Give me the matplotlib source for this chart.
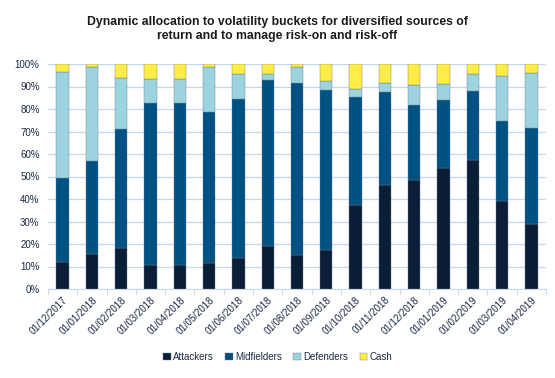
import matplotlib.pyplot as plt
import numpy as np
from matplotlib.ticker import PercentFormatter, FixedLocator

plt.rcParams['font.family'] = ['Liberation Sans', 'DejaVu Sans']

dates = ["01/12/2017", "01/01/2018", "01/02/2018", "01/03/2018", "01/04/2018",
         "01/05/2018", "01/06/2018", "01/07/2018", "01/08/2018", "01/09/2018",
         "01/10/2018", "01/11/2018", "01/12/2018", "01/01/2019", "01/02/2019",
         "01/03/2019", "01/04/2019"]
attackers = [12.1, 15.7, 18.2, 10.5, 10.5, 11.5, 13.7, 19.1, 14.9, 17.3,
             37.2, 46.1, 48.4, 53.6, 57.3, 39.1, 29.1]
midfielders = [37.4, 41.2, 53.0, 72.2, 72.2, 67.2, 70.9, 73.8, 76.5, 71.0,
               48.2, 41.6, 33.6, 30.2, 30.7, 35.6, 42.5]
defenders = [46.8, 41.8, 22.6, 10.5, 10.5, 20.0, 11.0, 2.7, 7.1, 4.2,
             3.5, 3.9, 8.5, 7.3, 7.6, 19.8, 24.4]
cash = [100 - a - m - d for a, m, d in zip(attackers, midfielders, defenders)]

series = [("Attackers", attackers, "#0b1e38"),
          ("Midfielders", midfielders, "#005282"),
          ("Defenders", defenders, "#9dd3de"),
          ("Cash", cash, "#ffec47")]

fig = plt.figure(figsize=(5.55, 3.78), dpi=100)
ax = fig.add_axes([48 / 555, 1 - 289 / 378, 498 / 555, 225 / 378])

x = np.arange(len(dates))
bottom = np.zeros(len(dates))
for name, vals, color in series:
    vals = np.array(vals)
    ax.bar(x, vals, 0.42, bottom=bottom, color=color, label=name,
           edgecolor="#6b7a8c", linewidth=0.3, zorder=3)
    bottom += vals

ax.set_xlim(-0.5, len(dates) - 0.5)
ax.set_ylim(0, 100)
ax.set_yticks(np.arange(0, 101, 10))
ax.yaxis.set_major_formatter(PercentFormatter(decimals=0))
ax.grid(axis="y", color="#c6d6ec", linewidth=0.9, zorder=0)

ax.set_xticks(x)
ax.set_xticklabels(dates, rotation=45, ha="right", rotation_mode="anchor")
ax.xaxis.set_minor_locator(FixedLocator(np.arange(-0.5, len(dates), 1)))
ax.tick_params(axis="x", which="major", length=0, labelsize=7, colors="#1a2a44", pad=4)
ax.tick_params(axis="x", which="minor", length=4, color="#c6d6ec")
ax.tick_params(axis="y", length=0, labelsize=7, colors="#1a2a44", pad=6)

for side in ["top", "right", "left"]:
    ax.spines[side].set_visible(False)
ax.spines["bottom"].set_color("#c6d6ec")

fig.text(0.5, 1 - 29 / 378,
         "Dynamic allocation to volatility buckets for diversified sources of\n"
         "return and to manage risk-on and risk-off",
         ha="center", va="center", fontsize=8.8, fontweight="bold",
         color="#1a1a1a", linespacing=1.25)

fig.legend(loc="center", bbox_to_anchor=(0.5, 1 - 357 / 378), ncol=4, frameon=False,
           fontsize=7, handlelength=0.8, handleheight=0.8, handletextpad=0.2,
           columnspacing=1.2, labelcolor="#1a2a44")

fig.savefig("out.png", dpi=100)
